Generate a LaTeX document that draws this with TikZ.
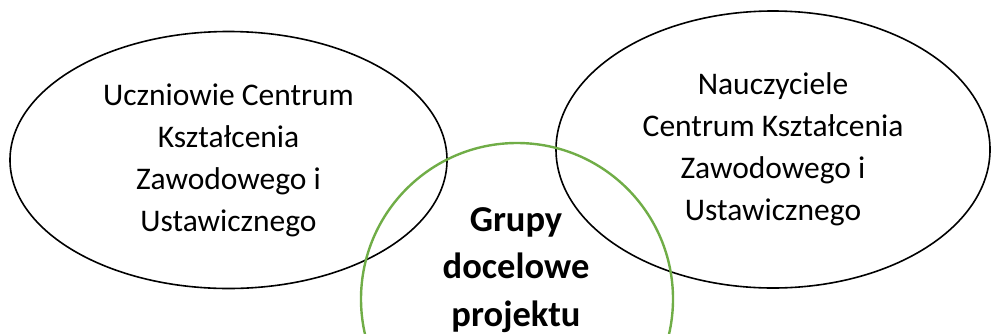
\documentclass[tikz,border=0pt]{standalone}
\usepackage{fontspec}
\setmainfont{Carlito}
\usetikzlibrary{shapes.geometric}
\definecolor{ogreen}{HTML}{70AD47}
\begin{document}
\begin{tikzpicture}[x=1pt,y=-1pt,
  group/.style={ellipse, draw=black, line width=1.6pt, inner sep=0pt, align=center,
    font=\fontsize{31.5}{42}\selectfont},
  target/.style={circle, draw=ogreen, line width=2.4pt, inner sep=0pt},
  targettext/.style={align=center, font=\fontsize{36.5}{47.3}\selectfont\bfseries}]
\useasboundingbox (0,0) rectangle (992,333);
\clip (0,0) rectangle (992,333);
\node[group, minimum width=437pt, minimum height=257pt] (pupils) at (228.5,160)
  {Uczniowie Centrum\\Kształcenia\\Zawodowego i\\Ustawicznego};
\node[group, minimum width=434pt, minimum height=277pt] (teachers) at (773,149.5)
  {Nauczyciele\\Centrum Kształcenia\\Zawodowego i\\Ustawicznego};
\node[target, minimum size=312pt] (goal) at (517,299) {};
\node[targettext, anchor=base] (goaltext) at (516,326) {Grupy\\docelowe\\projektu};
\end{tikzpicture}
\end{document}
